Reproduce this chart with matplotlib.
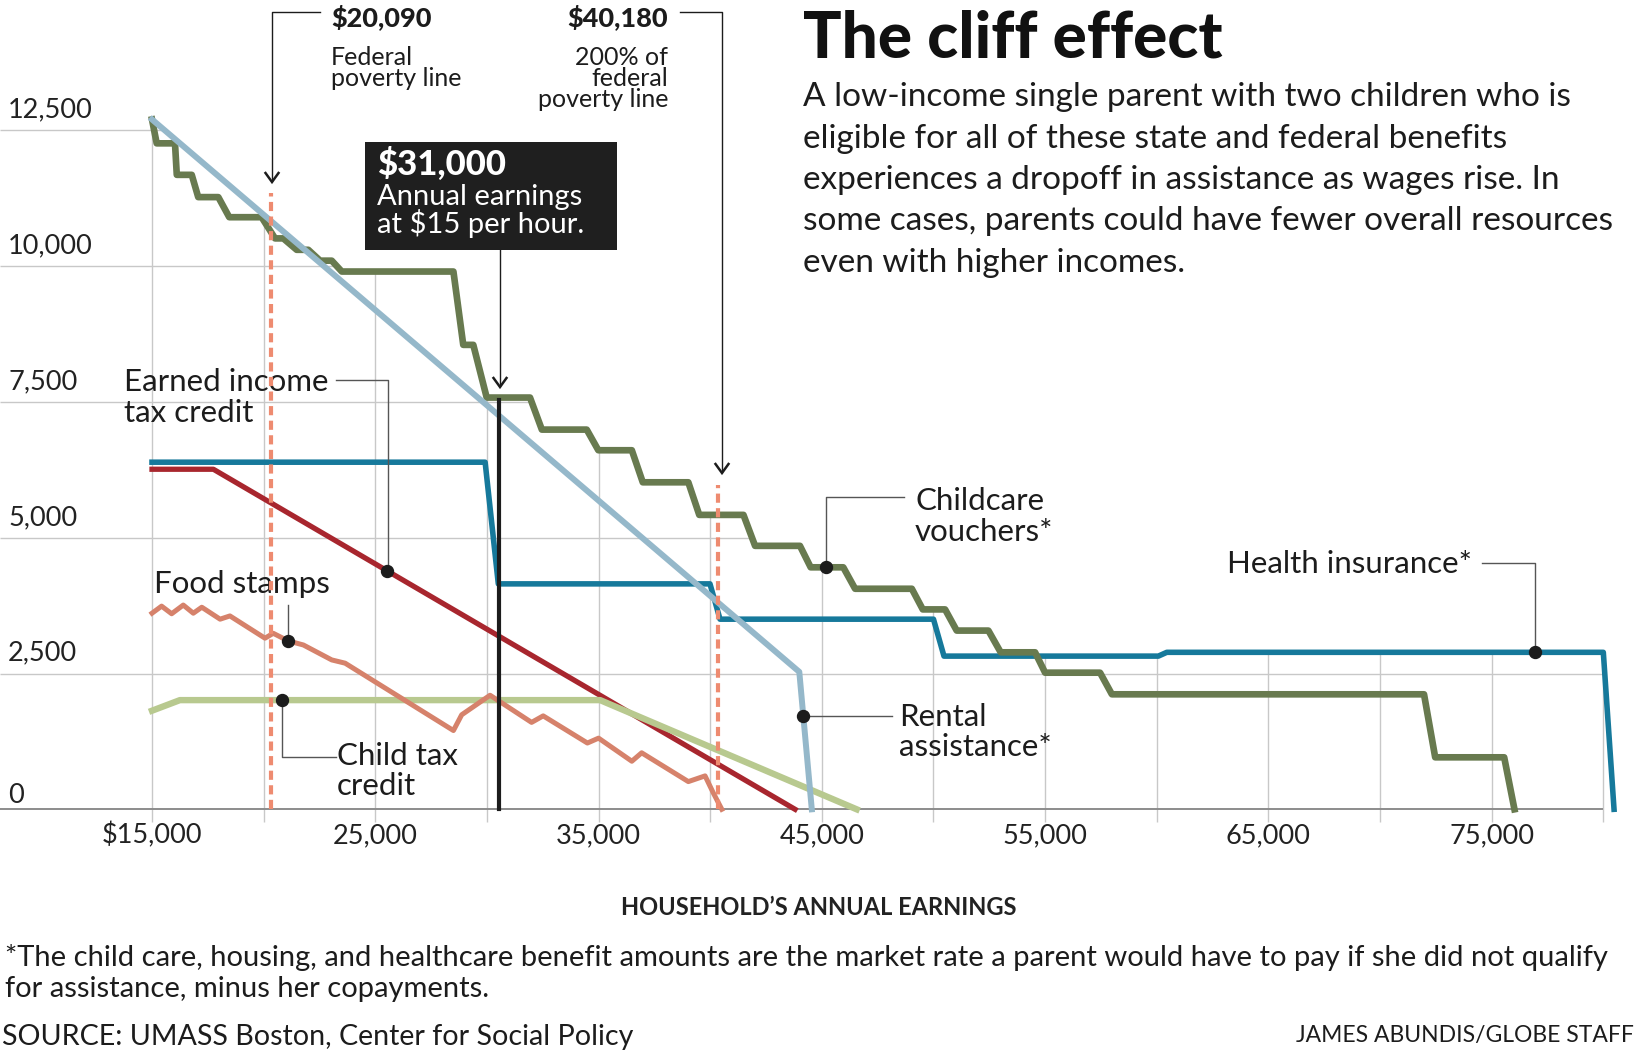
import numpy as np
import matplotlib
matplotlib.use("Agg")
import matplotlib.pyplot as plt
from matplotlib.patches import Polygon, Rectangle

plt.rcParams['font.family'] = ['Lato', 'DejaVu Sans']

W, H = 1646, 1052

# values: annual earnings ($) -> benefit value ($)
childcare_x = [15000, 15210, 16030, 16110, 16780, 17070, 17970, 18460, 19910, 20510,
               20880, 21480, 22000, 22530, 23050, 23500, 28500, 28940, 29390, 29990,
               31930, 32460, 34470, 34990, 36490, 36980, 39020, 39510, 41490, 42010,
               44020, 44500, 45960, 46490, 49030, 49520, 50520, 51040, 52460, 53010,
               54550, 55000, 57460, 57990, 71970, 72470, 75560, 76020]
childcare_y = [12700, 12260, 12260, 11680, 11680, 11270, 11270, 10900, 10900, 10510,
               10510, 10300, 10300, 10100, 10100, 9900, 9900, 8550, 8550, 7580,
               7580, 6990, 6990, 6610, 6610, 6020, 6020, 5420, 5420, 4850,
               4850, 4455, 4455, 4060, 4060, 3680, 3680, 3290, 3290, 2890,
               2890, 2515, 2515, 2117, 2117, 957, 957, 0]

rental_x = [15000, 43990, 44550]
rental_y = [12700, 2530, 0]

health_x = [15000, 29920, 30510, 39990, 40440, 50000, 50470, 60070, 60450, 80000, 80480]
health_y = [6390, 6390, 4150, 4150, 3500, 3500, 2820, 2820, 2890, 2890, 0]

eitc_x = [15000, 17750, 43800]
eitc_y = [6260, 6260, 0]

food_x = [15000, 15430, 15880, 16400, 16850, 17230, 18050, 18490, 20060, 20430,
          21100, 21780, 23050, 23650, 28500, 28870, 30140, 32000, 32520, 34500,
          35000, 36490, 36930, 39020, 39770, 40140, 40520]
food_y = [3610, 3740, 3600, 3760, 3610, 3720, 3500, 3560, 3150, 3240,
          3100, 3025, 2750, 2690, 1450, 1740, 2100, 1600, 1720, 1220,
          1310, 885, 1040, 510, 615, 300, 0]

ctc_x = [15000, 16250, 35070, 46560]
ctc_y = [1815, 2010, 2010, 0]

poverty_x = [20320, 40350]      # where the $20,090 / $40,180 markers are drawn
poverty_top = [11340, 5970]
wage_x = 30540                  # $31,000 marker
wage_top = 7540

yticks = [0, 2500, 5000, 7500, 10000, 12500]
ytick_labels = ['0', '2,500', '5,000', '7,500', '10,000', '12,500']
xticks = [15000, 25000, 35000, 45000, 55000, 65000, 75000]
xtick_labels = ['$15,000', '25,000', '35,000', '45,000', '55,000', '65,000', '75,000']
xgrid = list(range(15000, 80001, 5000))

subtitle = ["A low-income single parent with two children who is",
            "eligible for all of these state and federal benefits",
            "experiences a dropoff in assistance as wages rise. In",
            "some cases, parents could have fewer overall resources",
            "even with higher incomes."]


# pixel (from top-left of the picture) -> data
def dx(px):
    return 15000 + (px - 152) / 0.022328


def dy(py):
    return (809.3 - py) / 0.05432


fig = plt.figure(figsize=(W / 100, H / 100), dpi=100)
ax = fig.add_axes([0, 0, 1, 1])
ax.set_xlim(dx(0), dx(W))
ax.set_ylim(dy(H), dy(0))
ax.axis('off')

# grid, cut off above the highest curve
series = [(childcare_x, childcare_y), (rental_x, rental_y), (health_x, health_y),
          (eitc_x, eitc_y), (food_x, food_y), (ctc_x, ctc_y)]
xs = np.linspace(15000, health_x[-1], 4000)
env = np.max([np.interp(xs, sx, sy, right=0) for sx, sy in series], axis=0)
poly = [(dx(0), dy(H)), (dx(0), env[0])] + list(zip(xs, env)) + [(xs[-1], dy(H))]
clip = Polygon(poly, closed=True, transform=ax.transData)

hl = ax.hlines(yticks[1:], dx(0), 80000, color='#c8c8c8', lw=1.0, zorder=1)
vl = ax.vlines(xgrid, dy(822), 13000, color='#c8c8c8', lw=1.0, zorder=1)
hl.set_clip_path(clip)
vl.set_clip_path(clip)
ax.hlines(0, dx(0), 80000, color='#8c8c8c', lw=1.4, zorder=2)

# series
ax.plot(eitc_x, eitc_y, color='#a8262e', lw=3.8, zorder=3)
ax.plot(ctc_x, ctc_y, color='#b8c98f', lw=4.6, zorder=4)
ax.plot(food_x, food_y, color='#d6826b', lw=3.6, zorder=5)
ax.plot(health_x, health_y, color='#16799b', lw=4.0, zorder=6)
ax.plot(childcare_x, childcare_y, color='#687a4f', lw=4.8, zorder=7)
ax.plot(rental_x, rental_y, color='#95b8ca', lw=4.3, zorder=8)

for px_, top in zip(poverty_x, poverty_top):
    ax.plot([px_, px_], [0, top], color='#ee8b70', lw=3.0, dashes=(2.2, 1.3),
            solid_capstyle='butt', dash_capstyle='butt', zorder=9)
ax.plot([wage_x, wage_x], [0, wage_top], color='#1c1c1c', lw=3.0, zorder=9)

txt = '#1c1c1c'

# axis labels
for v, lab in zip(yticks, ytick_labels):
    off = 110 if v == 0 else 235
    ax.text(dx(8), v + off, lab, fontsize=19.5, color='#222222', va='baseline', ha='left')
for v, lab in zip(xticks, xtick_labels):
    ax.text(v, dy(843), lab, fontsize=19.5, color='#222222', va='baseline', ha='center')
ax.text(dx(819), dy(915), "HOUSEHOLD\u2019S ANNUAL EARNINGS", fontsize=17,
        fontweight='bold', color='#222222', ha='center', va='baseline')

# leader lines with dots
lc = '#555555'
dot_kw = dict(marker='o', ms=8.6, color=txt, zorder=12, ls='none')

x0 = 25525
y0 = np.interp(x0, eitc_x, eitc_y)
ax.plot([dx(336), dx(388), dx(388)], [dy(380), dy(380), y0], color=lc, lw=1.0, zorder=11)
ax.plot([x0], [y0], **dot_kw)

x0 = 21105
y0 = np.interp(x0, food_x, food_y)
ax.plot([x0, x0], [dy(605), y0], color=lc, lw=1.0, zorder=11)
ax.plot([x0], [y0], **dot_kw)

x0 = 20836
y0 = np.interp(x0, ctc_x, ctc_y)
ax.plot([x0, x0, dx(336)], [y0, dy(757), dy(757)], color=lc, lw=1.0, zorder=11)
ax.plot([x0], [y0], **dot_kw)

x0 = 45175
y0 = np.interp(x0, childcare_x, childcare_y)
ax.plot([x0, x0, dx(904)], [y0, dy(497), dy(497)], color=lc, lw=1.0, zorder=11)
ax.plot([x0], [y0], **dot_kw)

x0 = 44170
y0 = np.interp(x0, rental_x, rental_y)
ax.plot([x0, dx(892)], [y0, y0], color=lc, lw=1.0, zorder=11)
ax.plot([x0], [y0], **dot_kw)

x0 = 76945
y0 = np.interp(x0, health_x, health_y)
ax.plot([x0, x0, dx(1482)], [y0, dy(563), dy(563)], color=lc, lw=1.0, zorder=11)
ax.plot([x0], [y0], **dot_kw)

# series labels
lab_kw = dict(fontsize=22.5, color=txt, va='baseline')
ax.text(dx(124), dy(391), "Earned income", **lab_kw)
ax.text(dx(124), dy(422), "tax credit", **lab_kw)
ax.text(dx(154), dy(593), "Food stamps", **lab_kw)
ax.text(dx(337), dy(765), "Child tax", **lab_kw)
ax.text(dx(337), dy(795), "credit", **lab_kw)
ax.text(dx(915), dy(510), "Childcare", **lab_kw)
ax.text(dx(915), dy(541), "vouchers*", **lab_kw)
ax.text(dx(899), dy(726), "Rental", **lab_kw)
ax.text(dx(899), dy(756), "assistance*", **lab_kw)
ax.text(dx(1472), dy(573), "Health insurance*", ha='right', **lab_kw)


# poverty-line callouts with arrows
def chevron(px_, tip):
    ax.plot([dx(px_ - 6.5), dx(px_), dx(px_ + 6.5)], [dy(tip - 9), dy(tip), dy(tip - 9)],
            color=txt, lw=1.8, zorder=11, solid_joinstyle='miter')


ax.plot([dx(320), dx(272), dx(272)], [dy(12), dy(12), dy(181)], color=txt, lw=1.0, zorder=11)
chevron(272, 182)
ax.plot([dx(680), dx(722), dx(722)], [dy(12), dy(12), dy(472)], color=txt, lw=1.0, zorder=11)
chevron(722, 473)
ax.plot([dx(500), dx(500)], [dy(250), dy(386)], color=txt, lw=1.0, zorder=11)
chevron(500, 387)

ax.text(dx(331), dy(26), "$20,090", fontsize=19.5, fontweight='black', color=txt, va='baseline')
ax.text(dx(331), dy(65), "Federal", fontsize=18, color=txt, va='baseline')
ax.text(dx(331), dy(86), "poverty line", fontsize=18, color=txt, va='baseline')
ax.text(dx(668), dy(26), "$40,180", fontsize=19.5, fontweight='black', color=txt,
        va='baseline', ha='right')
ax.text(dx(668), dy(65), "200% of", fontsize=18, color=txt, va='baseline', ha='right')
ax.text(dx(668), dy(86), "federal", fontsize=18, color=txt, va='baseline', ha='right')
ax.text(dx(668), dy(107), "poverty line", fontsize=18, color=txt, va='baseline', ha='right')

# $31,000 box
ax.add_patch(Rectangle((dx(365), dy(250)), dx(617) - dx(365), dy(142) - dy(250),
                       facecolor='#1f1f1f', edgecolor='none', zorder=10))
ax.text(dx(377), dy(175), "$31,000", fontsize=25, fontweight='black', color='white',
        va='baseline', zorder=11)
ax.text(dx(377), dy(205), "Annual earnings", fontsize=21, color='white', va='baseline', zorder=11)
ax.text(dx(377), dy(233), "at $15 per hour.", fontsize=21, color='white', va='baseline', zorder=11)

# title block
ax.text(dx(803), dy(58), "The cliff effect", fontsize=46, fontweight='black',
        color='#111111', va='baseline')
for i, line in enumerate(subtitle):
    ax.text(dx(803), dy(106 + 41.5 * i), line, fontsize=24, color=txt, va='baseline')

# footer
ax.text(dx(5), dy(966), "*The child care, housing, and healthcare benefit amounts are the market "
        "rate a parent would have to pay if she did not qualify", fontsize=21, color=txt,
        va='baseline')
ax.text(dx(5), dy(997), "for assistance, minus her copayments.", fontsize=21, color=txt,
        va='baseline')
ax.text(dx(2), dy(1045), "SOURCE: UMASS Boston, Center for Social Policy", fontsize=20.6,
        color=txt, va='baseline')
ax.text(dx(1634), dy(1042), "JAMES ABUNDIS/GLOBE STAFF", fontsize=16.5, color=txt,
        va='baseline', ha='right')

fig.savefig("out.png", dpi=100, facecolor='white')
